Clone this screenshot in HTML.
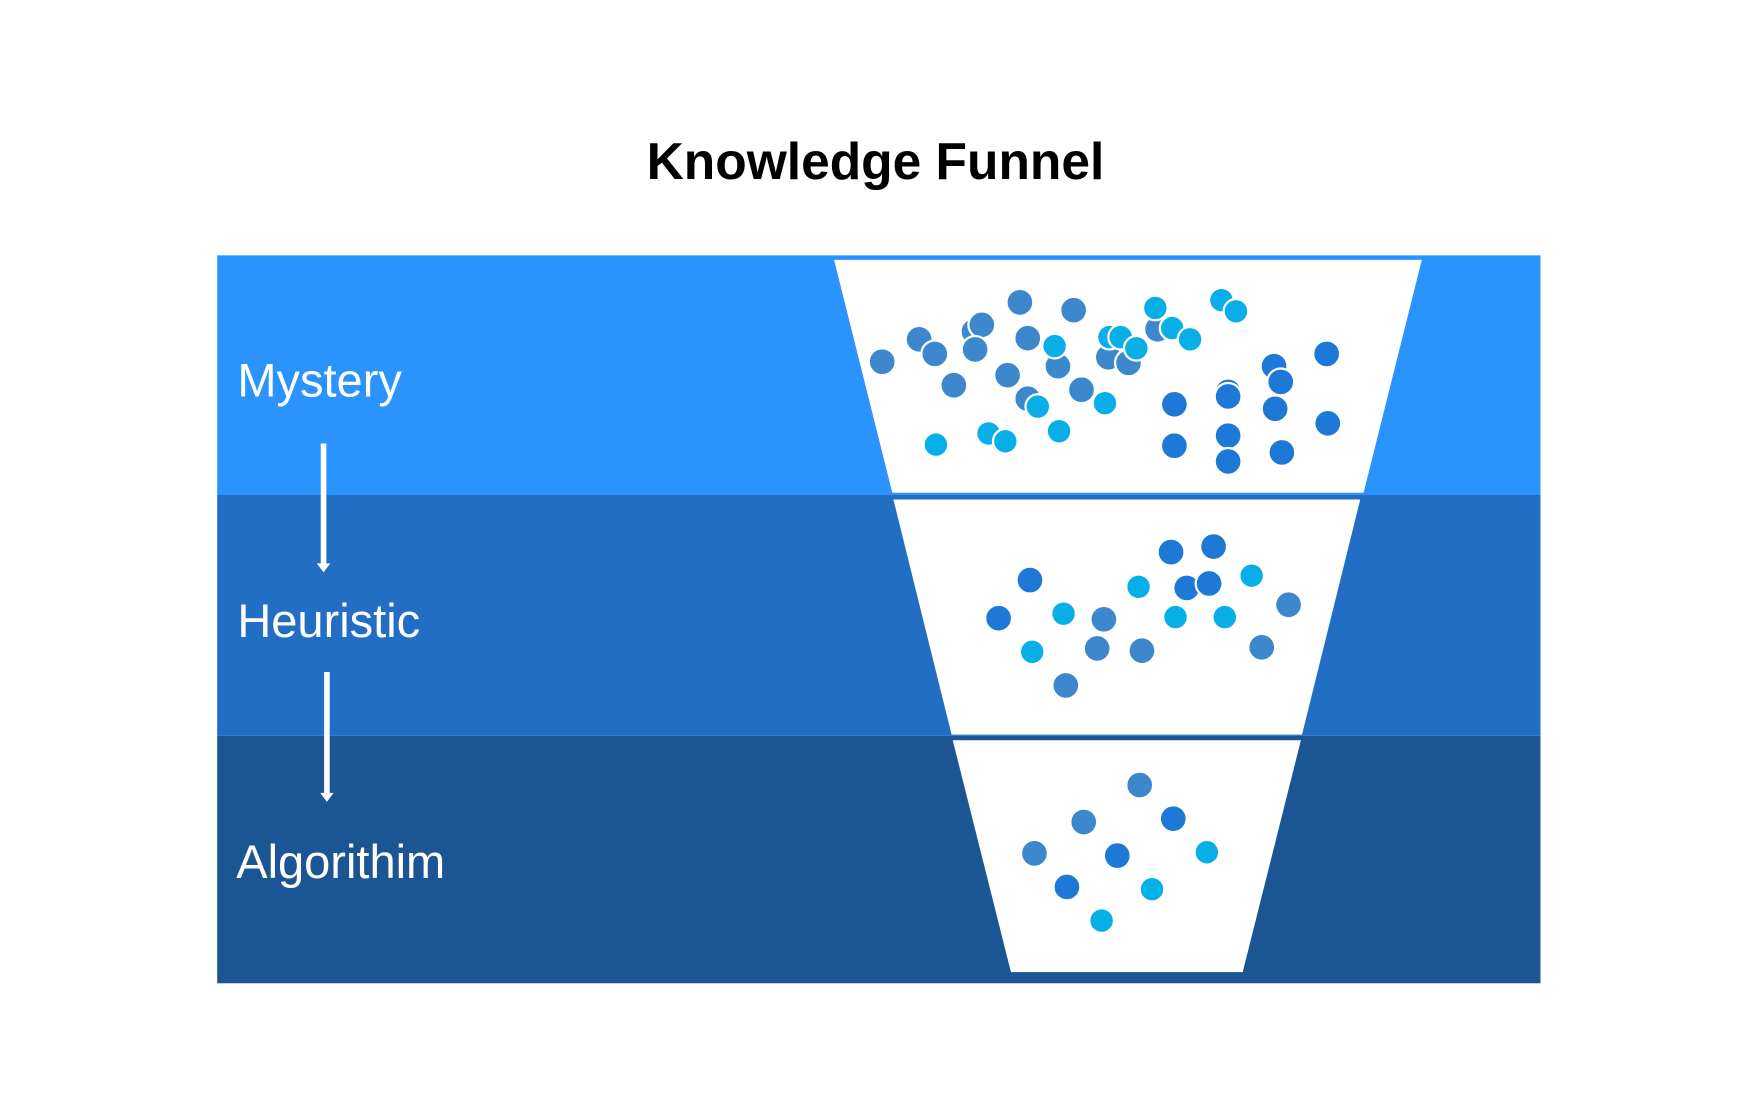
<!DOCTYPE html>
<html><head><style>html,body{margin:0;padding:0;background:#fff}svg{display:block}</style></head><body>
<svg width="1742" height="1102" viewBox="0 0 1556 984" preserveAspectRatio="none" xmlns="http://www.w3.org/2000/svg">
<rect width="1556" height="984" fill="#fff"/>
<text x="782" y="160" text-anchor="middle" font-family="Liberation Sans, sans-serif" font-weight="bold" font-size="46" fill="#000">Knowledge Funnel</text>
<rect x="194" y="228" width="1182" height="214" fill="#2a93fe"/>
<rect x="194" y="442" width="1182" height="215" fill="#216ec4"/>
<rect x="194" y="657" width="1182" height="221" fill="#1c5594"/>
<polygon points="745,232 1270,232 1218,440 797,440" fill="#fff"/>
<polygon points="798,446 1215,446 1163,656 850,656" fill="#fff"/>
<polygon points="851,661 1162,661 1110,868 903,868" fill="#fff"/>
<g stroke="#fff" stroke-width="2">
<g fill="#3d88cc">
<circle cx="788" cy="323" r="12"/><circle cx="821" cy="303" r="12"/><circle cx="835" cy="316" r="12"/><circle cx="870" cy="296" r="12"/><circle cx="877" cy="290" r="12"/><circle cx="871" cy="312" r="12"/><circle cx="911" cy="270" r="12"/><circle cx="959" cy="277" r="12"/><circle cx="918" cy="302" r="12"/><circle cx="900" cy="335" r="12"/><circle cx="945" cy="327" r="12"/><circle cx="852" cy="344" r="12"/><circle cx="918" cy="356" r="12"/><circle cx="966" cy="348" r="12"/><circle cx="990" cy="319" r="12"/><circle cx="1008" cy="324" r="12"/><circle cx="1034" cy="294" r="12"/>
<circle cx="1151" cy="540" r="12"/><circle cx="986" cy="553" r="12"/><circle cx="980" cy="579" r="12"/><circle cx="1020" cy="581" r="12"/><circle cx="1127" cy="578" r="12"/><circle cx="952" cy="612" r="12"/>
<circle cx="1018" cy="701" r="12"/><circle cx="968" cy="734" r="12"/><circle cx="924" cy="762" r="12"/>
</g>
<g fill="#1e78d6">
<circle cx="1185" cy="316" r="12"/><circle cx="1138" cy="327" r="12"/><circle cx="1144" cy="341" r="12"/><circle cx="1097" cy="350" r="12"/><circle cx="1097" cy="354" r="12"/><circle cx="1049" cy="361" r="12"/><circle cx="1139" cy="365" r="12"/><circle cx="1186" cy="378" r="12"/><circle cx="1049" cy="398" r="12"/><circle cx="1097" cy="389" r="12"/><circle cx="1097" cy="412" r="12"/><circle cx="1145" cy="404" r="12"/>
<circle cx="1046" cy="493" r="12"/><circle cx="1084" cy="488" r="12"/><circle cx="920" cy="518" r="12"/><circle cx="1060" cy="525" r="12"/><circle cx="1080" cy="521" r="12"/><circle cx="892" cy="552" r="12"/>
<circle cx="1048" cy="731" r="12"/><circle cx="998" cy="764" r="12"/><circle cx="953" cy="792" r="12"/>
</g>
<g fill="#08aee8">
<circle cx="1032" cy="275" r="11"/><circle cx="1091" cy="268" r="11"/><circle cx="1104" cy="278" r="11"/><circle cx="942" cy="309" r="11"/><circle cx="991" cy="301" r="11"/><circle cx="1001" cy="301" r="11"/><circle cx="1015" cy="311" r="11"/><circle cx="1047" cy="293" r="11"/><circle cx="1063" cy="303" r="11"/><circle cx="927" cy="363" r="11"/><circle cx="987" cy="360" r="11"/><circle cx="836" cy="397" r="11"/><circle cx="883" cy="387" r="11"/><circle cx="898" cy="394" r="11"/><circle cx="946" cy="385" r="11"/>
<circle cx="1017" cy="524" r="11"/><circle cx="1118" cy="514" r="11"/><circle cx="950" cy="548" r="11"/><circle cx="1050" cy="551" r="11"/><circle cx="1094" cy="551" r="11"/><circle cx="922" cy="582" r="11"/>
<circle cx="1078" cy="761" r="11"/><circle cx="1029" cy="794" r="11"/><circle cx="984" cy="822" r="11"/>
</g>
</g>
<g font-family="Liberation Sans, sans-serif" font-size="42" fill="#fff">
<text x="212" y="354">Mystery</text>
<text x="212" y="569">Heuristic</text>
<text x="211" y="784">Algorithim</text>
</g>
<g stroke="#fff" stroke-width="5" fill="none">
<line x1="289" y1="396" x2="289" y2="506"/>
<line x1="292" y1="600" x2="292" y2="711"/>
</g>
<g fill="#fff">
<polygon points="283,503 295,503 289,511"/>
<polygon points="286,708 298,708 292,716"/>
</g>
</svg>
</body></html>
